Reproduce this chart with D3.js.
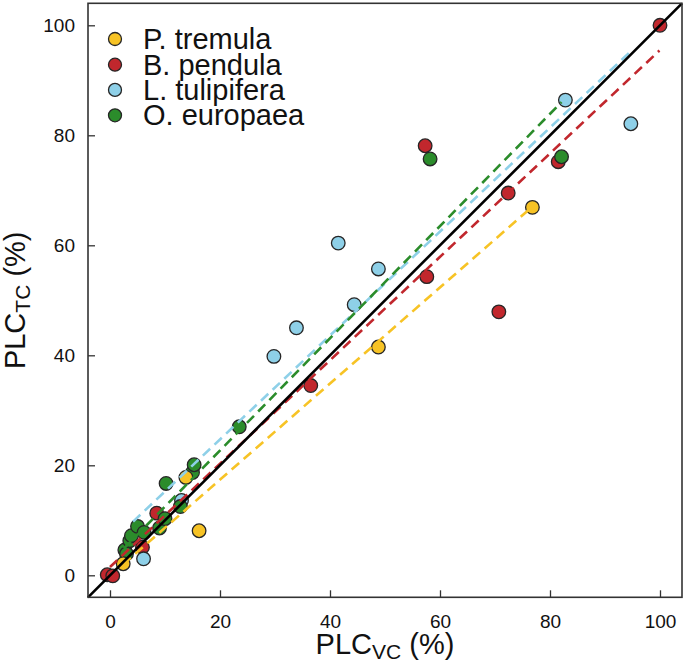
<!DOCTYPE html>
<html><head><meta charset="utf-8">
<script src="https://cdn.jsdelivr.net/npm/d3@7/dist/d3.min.js"></script>
<style>
html,body{margin:0;padding:0;background:#fff;}
svg{display:block;font-family:"Liberation Sans",Arial,sans-serif;}
</style></head>
<body>
<svg id="chart" width="685" height="666"></svg>
<script>
// ---- data ----
const species = ["P. tremula", "B. pendula", "L. tulipifera", "O. europaea"];
const colors = ["#F7C325", "#C1272D", "#8ED0E8", "#2B8C2B"];

const tremulaVC = [2.4, 16.2, 13.8, 48.8, 76.8];
const tremulaTC = [2.1, 8.1, 17.8, 41.5, 66.9];

const pendulaVC = [-0.5, 0.5, 5.9, 8.5, 36.5, 57.6, 57.3, 70.7, 72.4, 81.5, 100];
const pendulaTC = [0.1, -0.1, 5.1, 11.3, 34.5, 54.3, 78.1, 47.9, 69.5, 75.2, 100];

const tulipiferaVC = [6.1, 13.0, 29.8, 33.9, 41.5, 44.4, 48.8, 82.8, 94.7];
const tulipiferaTC = [3.0, 13.6, 39.8, 45.0, 60.4, 49.2, 55.7, 86.4, 82.1];

const europaeaVC = [2.7, 3.0, 3.6, 3.9, 5.0, 6.2, 9.0, 10.0, 12.8, 10.2, 15.0, 15.3, 23.5, 58.2, 82.1];
const europaeaTC = [4.6, 3.9, 6.3, 7.2, 8.9, 7.8, 8.6, 10.3, 12.5, 16.7, 18.7, 20.1, 27.0, 75.7, 76.1];

// fitted dashed lines: intercept, slope, x start, x end (order = species)
const fitIntercept = [-0.1, 1.5, 5.8, 2.3];
const fitSlope = [0.874, 0.94, 0.945, 1.02];
const fitStart = [2.4, 0, 4.2, 2.5];
const fitEnd = [76.4, 99.9, 94.8, 82.1];

const tickValues = [0, 20, 40, 60, 80, 100];
const axisDomain = [-4, 104];

// ---- drawing ----
const svg = d3.select("#chart");
const L = 88, R = 682, T = 3.3, B = 597.3;
const x = d3.scaleLinear().domain(axisDomain).range([L, R]);
const y = d3.scaleLinear().domain(axisDomain).range([B, T]);

const seriesX = [tremulaVC, pendulaVC, tulipiferaVC, europaeaVC];
const seriesY = [tremulaTC, pendulaTC, tulipiferaTC, europaeaTC];

// points: draw order red, blue, green, yellow
const drawOrder = [1, 2, 3, 0];
drawOrder.forEach(i => {
  const pts = seriesX[i].map((v, k) => [v, seriesY[i][k]]);
  svg.append("g").selectAll("circle").data(pts).join("circle")
    .attr("cx", d => x(d[0])).attr("cy", d => y(d[1])).attr("r", 6.8)
    .attr("fill", colors[i]).attr("stroke", "#262626").attr("stroke-width", 1.3);
});

// dashed regression lines
const lineGen = d3.line().x(d => x(d[0])).y(d => y(d[1]));
[2, 3, 1, 0].forEach(i => {
  const pts = [fitStart[i], fitEnd[i]].map(v => [v, fitIntercept[i] + fitSlope[i] * v]);
  svg.append("path").attr("d", lineGen(pts)).attr("fill", "none")
    .attr("stroke", colors[i]).attr("stroke-width", 2.6)
    .attr("stroke-dasharray", "10,6");
});

// 1:1 line
svg.append("path").attr("d", lineGen([[axisDomain[0], axisDomain[0]], [axisDomain[1], axisDomain[1]]]))
  .attr("stroke", "#000").attr("stroke-width", 2.6).attr("fill", "none");

// axes
const xAxis = svg.append("g").attr("transform", `translate(0,${B})`)
  .call(d3.axisBottom(x).tickValues(tickValues).tickSize(-7).tickPadding(17).tickFormat(d3.format("d")));
const yAxis = svg.append("g").attr("transform", `translate(${L},0)`)
  .call(d3.axisLeft(y).tickValues(tickValues).tickSize(-7).tickPadding(13).tickFormat(d3.format("d")));
[xAxis, yAxis].forEach(a => {
  a.select(".domain").remove();
  a.selectAll(".tick line").attr("stroke", "#333").attr("stroke-width", 1.3);
  a.selectAll(".tick text").attr("font-size", 19).attr("fill", "#111")
    .attr("font-family", '"Liberation Sans",Arial,sans-serif');
});

// frame
svg.append("rect").attr("x", L).attr("y", T).attr("width", R - L).attr("height", B - T)
  .attr("fill", "none").attr("stroke", "#333").attr("stroke-width", 1.6);

// axis titles
const xt = svg.append("text").attr("x", (L + R) / 2).attr("y", 654).attr("text-anchor", "middle")
  .attr("font-size", 29).attr("fill", "#111");
xt.append("tspan").text("PLC");
xt.append("tspan").attr("font-size", 21).attr("dy", 5).text("VC");
xt.append("tspan").attr("dy", -5).text(" (%)");

const yt = svg.append("text").attr("transform", `translate(25,${(T + B) / 2}) rotate(-90)`)
  .attr("text-anchor", "middle").attr("font-size", 29).attr("fill", "#111");
yt.append("tspan").text("PLC");
yt.append("tspan").attr("font-size", 21).attr("dy", 5).text("TC");
yt.append("tspan").attr("dy", -5).text(" (%)");

// legend
const legendY = [39, 64.7, 89.9, 115.3];
species.forEach((s, i) => {
  svg.append("circle").attr("cx", 115).attr("cy", legendY[i]).attr("r", 6.5)
    .attr("fill", colors[i]).attr("stroke", "#262626").attr("stroke-width", 1.3);
  svg.append("text").attr("x", 143).attr("y", legendY[i]).attr("dy", "0.35em")
    .attr("font-size", 29).attr("fill", "#111").text(s);
});
</script>
</body></html>
